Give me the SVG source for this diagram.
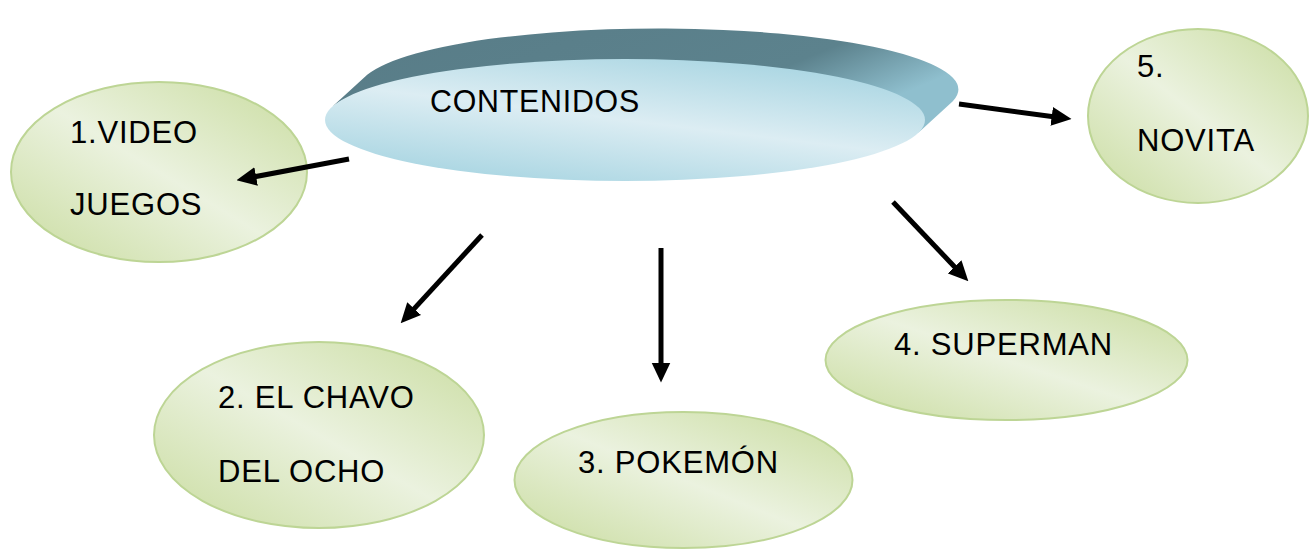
<svg xmlns="http://www.w3.org/2000/svg" width="1315" height="550" viewBox="0 0 1315 550">
<defs>
<linearGradient id="gGreen" x1="1" y1="0" x2="0" y2="1">
<stop offset="0" stop-color="#c9dc9f"/>
<stop offset="0.5" stop-color="#ebf2df"/>
<stop offset="1" stop-color="#c9dc9f"/>
</linearGradient>
<linearGradient id="gBlue" x1="0.8" y1="0" x2="0.2" y2="1">
<stop offset="0" stop-color="#a6d4e1"/>
<stop offset="0.5" stop-color="#dcedf3"/>
<stop offset="1" stop-color="#a6d4e1"/>
</linearGradient>
<linearGradient id="gSide" x1="0" y1="0" x2="1" y2="0.4">
<stop offset="0" stop-color="#587c87"/>
<stop offset="0.75" stop-color="#5c828d"/>
<stop offset="1" stop-color="#8fbfce"/>
</linearGradient>
<marker id="arr" markerUnits="userSpaceOnUse" markerWidth="20" markerHeight="20" viewBox="0 0 19 18" refX="9" refY="9" orient="auto">
<path d="M0,0 L19,9 L0,18 Z" fill="#000"/>
</marker>
<style>
.g{fill:url(#gGreen);stroke:#bdd595;stroke-width:2}
.t{font-family:"Liberation Sans",Arial,sans-serif;font-size:31px;letter-spacing:0.8px;fill:#000}
.c{stroke:#000;stroke-width:5;fill:none;marker-end:url(#arr)}
</style>
</defs>
<g id="contenidos">
<path d="M332.2,106.8 L367.2,74.8 A300,61 0 0 1 952.8,101.2 L917.8,133.2 A300,61 0 0 0 332.2,106.8 Z" fill="url(#gSide)"/>
<ellipse cx="625" cy="120" rx="300" ry="61" fill="url(#gBlue)"/>
<text class="t" x="430" y="112" font-size="33" letter-spacing="0" textLength="210" lengthAdjust="spacingAndGlyphs">CONTENIDOS</text>
</g>
<g id="n1">
<ellipse class="g" cx="159" cy="172" rx="148" ry="90"/>
<text class="t" x="70" y="143">1.VIDEO</text>
<text class="t" x="70" y="215">JUEGOS</text>
</g>
<g id="n5">
<ellipse class="g" cx="1198" cy="116" rx="110" ry="87"/>
<text class="t" x="1137" y="77">5.</text>
<text class="t" x="1137" y="151">NOVITA</text>
</g>
<g id="n2">
<ellipse class="g" cx="319" cy="435" rx="165" ry="93"/>
<text class="t" x="218" y="408">2. EL CHAVO</text>
<text class="t" x="218" y="482">DEL OCHO</text>
</g>
<g id="n3">
<ellipse class="g" cx="683.5" cy="480" rx="169" ry="68"/>
<text class="t" x="578" y="473">3. POKEMÓN</text>
</g>
<g id="n4">
<ellipse class="g" cx="1006.5" cy="360" rx="181" ry="60"/>
<text class="t" x="894" y="355">4. SUPERMAN</text>
</g>
<g id="connectors">
<line class="c" x1="349" y1="159" x2="246.8" y2="178.2"/>
<line class="c" x1="482" y1="235" x2="407.8" y2="315.6"/>
<line class="c" x1="661" y1="248" x2="661" y2="372"/>
<line class="c" x1="893" y1="202" x2="961.1" y2="273.7"/>
<line class="c" x1="959" y1="104" x2="1061.1" y2="117.7"/>
</g>
</svg>
